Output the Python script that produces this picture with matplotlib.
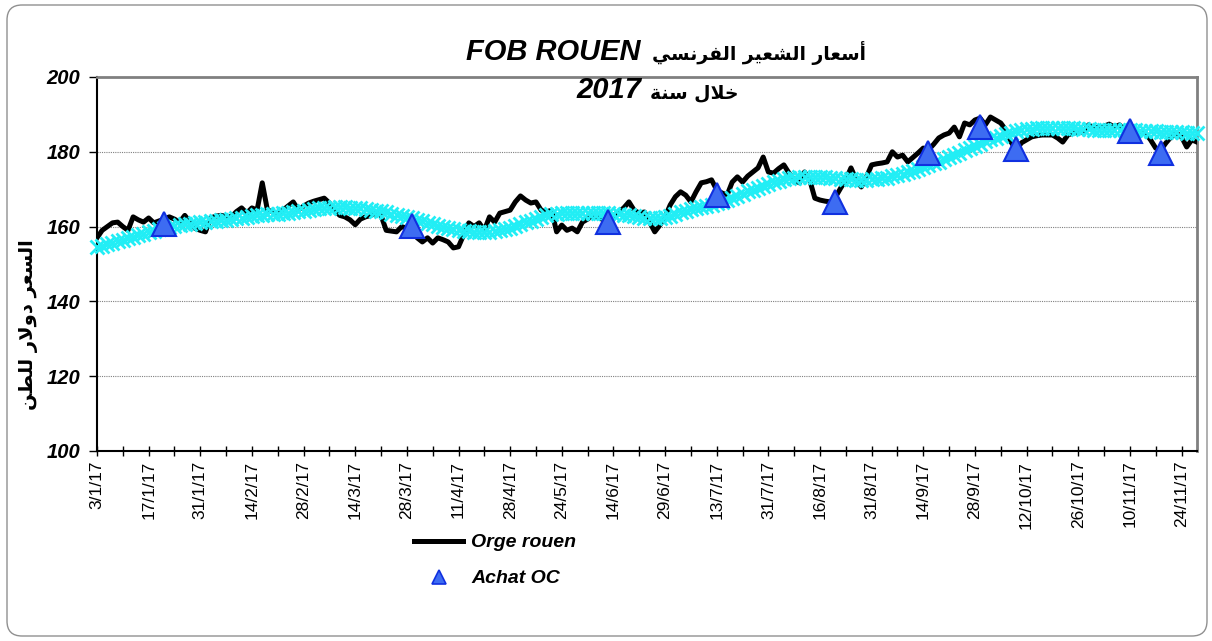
import matplotlib.pyplot as plt
from matplotlib.lines import Line2D
from matplotlib.patches import FancyBboxPatch

# tick labels (one label every 10 quotes)
date_labels = ["3/1/17", "17/1/17", "31/1/17", "14/2/17", "28/2/17", "14/3/17",
               "28/3/17", "11/4/17", "28/4/17", "24/5/17", "14/6/17", "29/6/17",
               "13/7/17", "31/7/17", "16/8/17", "31/8/17", "14/9/17", "28/9/17",
               "12/10/17", "26/10/17", "10/11/17", "24/11/17"]

# Orge rouen, $/t, one value per quote
orge_rouen = [
    157, 159, 160, 161, 161.2, 160, 159, 162.6, 161.8, 161.2,
    162.3, 161, 161.5, 162, 162.6, 162, 161.2, 163, 161.2, 159.5,
    159, 158.6, 162.3, 162.8, 163, 162.8, 162.6, 164, 165, 163.6,
    165, 164.4, 171.7, 164.4, 164, 163.6, 164.4, 165.5, 166.6, 164.4,
    165.5, 166.3, 166.8, 167.2, 167.6, 166.3, 164.4, 163, 162.6, 161.8,
    160.5, 162, 162.6, 163, 163.6, 163, 159, 158.8, 158.6, 160,
    159.5, 159, 157, 155.9, 157, 155.6, 157, 156.5, 155.9, 154.3,
    154.6, 157.8, 161, 160, 161, 159, 162.6, 161.2, 163.6, 164,
    164.4, 166.6, 168.2, 167.1, 166.3, 166.6, 164.4, 163.9, 164.4, 158.6,
    160.4, 159, 159.6, 158.6, 161.2, 162, 163, 162.6, 161.8, 161.2,
    163, 163.9, 165, 166.6, 164.4, 163.6, 163.9, 161.2, 158.6, 160.4,
    162.6, 165.8, 168, 169.3, 168.4, 166.6, 169.3, 171.7, 172, 172.5,
    169.8, 169, 168.4, 171.9, 173.3, 171.9, 173.5, 174.6, 175.7, 178.6,
    174.6, 174.3, 175.5, 176.5, 174.3, 172.5, 171.7, 174.6, 172.5, 167.6,
    167.1, 166.8, 166.6, 167.9, 170.3, 172.5, 175.7, 172.5, 170.6, 173.3,
    176.5, 176.8, 177, 177.3, 180, 178.6, 179.1, 177.3, 178.5, 179.7,
    181, 180.5, 182, 183.7, 184.5, 185, 186.6, 184, 187.7, 187.2,
    188.5, 189, 187.2, 189.3, 188.5, 187.7, 185.8, 182.6, 180.5, 182.4,
    183.2, 184, 184.3, 184.5, 184.5, 184.5, 183.7, 182.6, 184.5, 185,
    185.2, 185.3, 187.2, 186.4, 186.6, 186.8, 187.4, 186.6, 187.2, 185.8,
    185.5, 185.3, 185.2, 185, 183.2, 181, 180.5, 182.4, 184, 185,
    184, 181.3, 183.2, 182.6,
]

# smooth trend series (cyan x markers)
tendance = [
    154.5, 154.9, 155.3, 155.7, 156.1, 156.5, 156.9, 157.3, 157.7, 158.1,
    158.5, 158.9, 159.3, 159.6, 159.9, 160.2, 160.4, 160.6, 160.8, 161.0,
    161.2, 161.3, 161.4, 161.6, 161.7, 161.8, 162.0, 162.2, 162.4, 162.6,
    162.8, 163.0, 163.2, 163.3, 163.4, 163.5, 163.6, 163.7, 163.9, 164.1,
    164.3, 164.5, 164.7, 164.9, 165.0, 165.1, 165.2, 165.2, 165.2, 165.1,
    165.0, 164.9, 164.7, 164.5, 164.3, 164.1, 163.8, 163.5, 163.2, 162.9,
    162.6, 162.2, 161.8, 161.4, 161.0, 160.6, 160.2, 159.9, 159.6, 159.3,
    159.1, 158.9, 158.7, 158.6, 158.6, 158.6, 158.6, 158.8, 159.0, 159.3,
    159.7, 160.1, 160.6, 161.1, 161.6, 162.1, 162.6, 163.0, 163.3, 163.5,
    163.6, 163.7, 163.7, 163.7, 163.7, 163.7, 163.7, 163.6, 163.6, 163.6,
    163.5, 163.4, 163.2, 163.0, 162.8, 162.6, 162.4, 162.3, 162.3, 162.4,
    162.6, 162.9, 163.3, 163.8, 164.3, 164.7, 165.0, 165.3, 165.6, 165.9,
    166.2, 166.6, 167.1, 167.6, 168.2, 168.8, 169.4, 169.9, 170.4, 170.9,
    171.4, 171.8, 172.2, 172.6, 172.9, 173.1, 173.2, 173.3, 173.3, 173.3,
    173.3, 173.2, 173.1, 173.0, 172.8, 172.7, 172.6, 172.5, 172.5, 172.5,
    172.6, 172.7, 172.9, 173.1, 173.4, 173.7, 174.1, 174.5, 175.0, 175.4,
    175.9, 176.4, 176.9, 177.4, 178.0, 178.6, 179.2, 179.8, 180.4, 181.0,
    181.6, 182.2, 182.8, 183.3, 183.8, 184.3, 184.7, 185.1, 185.5, 185.8,
    186.0, 186.2, 186.3, 186.4, 186.4, 186.4, 186.4, 186.4, 186.3, 186.3,
    186.2, 186.1, 186.0, 185.9, 185.8, 185.8, 185.8, 185.7, 185.7, 185.7,
    185.7, 185.7, 185.6, 185.6, 185.5, 185.5, 185.4, 185.3, 185.3, 185.2,
    185.2, 185.1, 185.1, 185.0,
]

# Achat OC: quote index and price
achat_idx = [13, 61, 99, 120, 143, 161, 171, 178, 200, 206]
achat_oc = [160.7, 160.2, 161.2, 168.5, 166.6, 179.7, 186.5, 180.7, 185.6, 179.6]

title_ar = "أسعار الشعير الفرنسي"
year_ar = "خلال سنة"
ylabel_ar = "السعر دولار للطن"


# minimal arabic shaping (matplotlib has no bidi / joining)
FORMS = {
    'ا': (0xFE8D, 0xFE8E, None, None), 'أ': (0xFE83, 0xFE84, None, None),
    'ر': (0xFEAD, 0xFEAE, None, None), 'د': (0xFEA9, 0xFEAA, None, None),
    'و': (0xFEED, 0xFEEE, None, None), 'ة': (0xFE93, 0xFE94, None, None),
    'لا': (0xFEFB, 0xFEFC, None, None),
    'س': (0xFEB1, 0xFEB2, 0xFEB3, 0xFEB4), 'ش': (0xFEB5, 0xFEB6, 0xFEB7, 0xFEB8),
    'ع': (0xFEC9, 0xFECA, 0xFECB, 0xFECC), 'ي': (0xFEF1, 0xFEF2, 0xFEF3, 0xFEF4),
    'ل': (0xFEDD, 0xFEDE, 0xFEDF, 0xFEE0), 'ف': (0xFED1, 0xFED2, 0xFED3, 0xFED4),
    'ن': (0xFEE5, 0xFEE6, 0xFEE7, 0xFEE8), 'خ': (0xFEA5, 0xFEA6, 0xFEA7, 0xFEA8),
    'ط': (0xFEC1, 0xFEC2, 0xFEC3, 0xFEC4),
}


def shape_word(word):
    letters = []
    i = 0
    while i < len(word):
        if word[i:i + 2] == 'لا':
            letters.append('لا')
            i += 2
        else:
            letters.append(word[i])
            i += 1
    out = []
    for k, ch in enumerate(letters):
        iso, fin, ini, med = FORMS[ch]
        prev_joins = k > 0 and FORMS[letters[k - 1]][2] is not None
        next_joins = k < len(letters) - 1 and ini is not None
        if prev_joins and next_joins:
            code = med
        elif prev_joins:
            code = fin
        elif next_joins:
            code = ini
        else:
            code = iso
        out.append(chr(code))
    return ''.join(reversed(out))


def shape(text):
    return ' '.join(shape_word(w) for w in reversed(text.split()))


W, H = 1212, 641
fig = plt.figure(figsize=(W / 100, H / 100), dpi=100)
fig.patch.set_facecolor('white')

border = FancyBboxPatch((0.07, 0.05), 12.0, 6.31,
                        boxstyle='round,pad=0,rounding_size=0.15',
                        transform=fig.dpi_scale_trans, fc='none', ec='#909090', lw=1)
fig.patches.append(border)

ax = fig.add_axes([97 / W, 1 - 451 / H, (1197 - 97) / W, (451 - 77) / H])

x = list(range(len(orge_rouen)))
ax.plot(x, orge_rouen, color='black', lw=3.6, solid_joinstyle='round', zorder=3)
ax.plot(x, tendance, color='#22eef5', lw=0, marker='x', ms=10, mew=2,
        zorder=4, clip_on=False)
ax.plot(achat_idx, achat_oc, ls='none', marker='^', ms=17, mfc='#3d6cf2',
        mec='#1030e0', mew=1.5, zorder=5)

ax.set_xlim(0, len(orge_rouen) - 1)
ax.set_ylim(100, 200)

ax.set_xticks(range(0, len(orge_rouen), 10))
ax.set_xticklabels(date_labels, rotation=90, fontsize=12.5, family='Liberation Sans')
ax.set_xticks(range(5, len(orge_rouen), 10), minor=True)
ax.tick_params(axis='x', which='both', direction='inout', length=7, width=1, pad=3.5)

ax.set_yticks(range(100, 201, 20))
ax.set_yticklabels([str(v) for v in range(100, 201, 20)], fontsize=14.5,
                   weight='bold', style='italic', family='Liberation Sans')
ax.tick_params(axis='y', direction='out', length=6, width=1, pad=6)

ax.yaxis.grid(True, color='#808080', ls=(0, (1, 1)), lw=0.8)
ax.set_axisbelow(True)

for side in ['top', 'right']:
    ax.spines[side].set_color('#808080')
    ax.spines[side].set_linewidth(2)
for side in ['left', 'bottom']:
    ax.spines[side].set_color('black')
    ax.spines[side].set_linewidth(1.5)

# y label, arabic
fig.text(29 / W, 1 - 325 / H, shape(ylabel_ar), rotation=90, ha='center', va='center',
         fontsize=14, weight='bold', family='DejaVu Sans')

# title
fig.text(641 / W, 1 - 60 / H, 'FOB ROUEN', ha='right', va='baseline', fontsize=21,
         weight='bold', style='italic', family='Liberation Sans')
fig.text(652 / W, 1 - 60 / H, shape(title_ar), ha='left', va='baseline', fontsize=13.5,
         weight='bold', family='DejaVu Sans')
fig.text(641 / W, 1 - 98 / H, '2017', ha='right', va='baseline', fontsize=21,
         weight='bold', style='italic', family='Liberation Sans')
fig.text(650 / W, 1 - 98 / H, shape(year_ar), ha='left', va='baseline', fontsize=13.5,
         weight='bold', family='DejaVu Sans')

# legend
handles = [Line2D([], [], color='black', lw=3.6),
           Line2D([], [], ls='none', marker='^', ms=10, mfc='#3d6cf2', mec='#1030e0', mew=1.2)]
fig.legend(handles, ['Orge rouen', 'Achat OC'], loc='upper left',
           bbox_to_anchor=(404 / W, 1 - 524 / H), frameon=False, borderpad=0,
           handlelength=2.55, handletextpad=0.4, labelspacing=0.95,
           prop={'family': 'Liberation Sans', 'weight': 'bold', 'style': 'italic', 'size': 14})

fig.savefig('out.png', dpi=100)
